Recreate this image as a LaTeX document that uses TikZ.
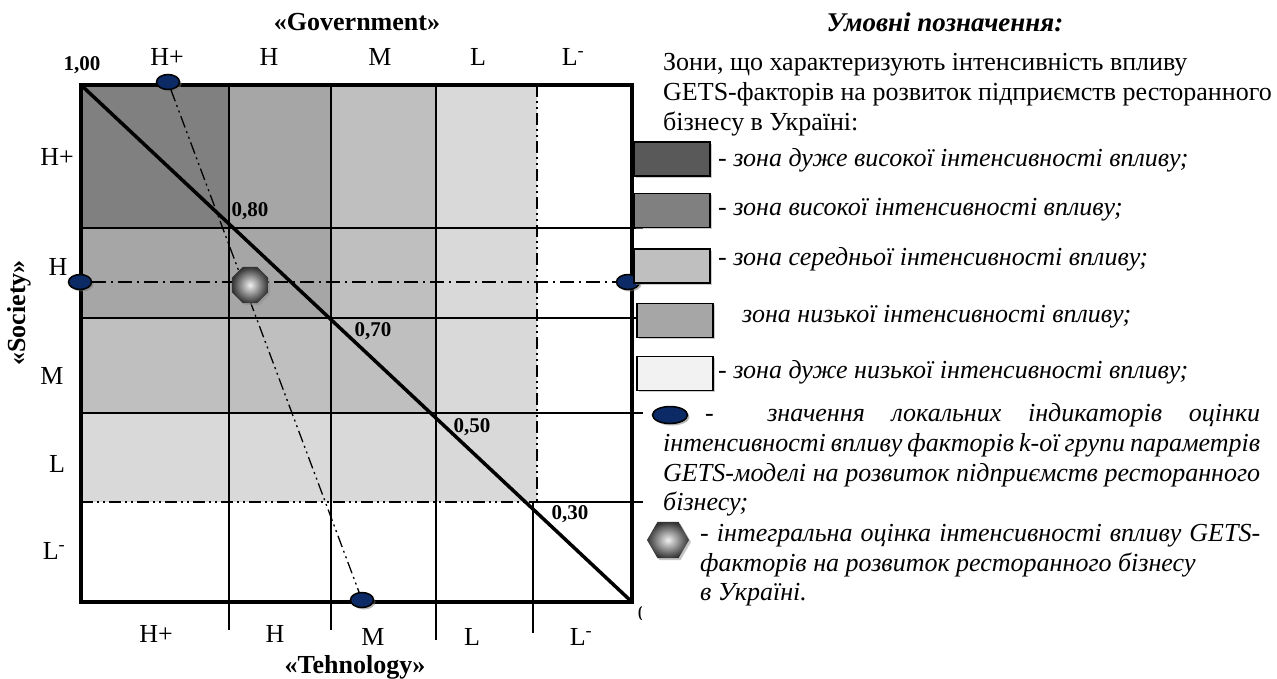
\documentclass[tikz,border=0pt]{standalone}
\usepackage{fontspec}
\setmainfont{Liberation Serif}
\usetikzlibrary{shapes.geometric, shadows}

\definecolor{zoneA}{HTML}{808080}
\definecolor{zoneB}{HTML}{A6A6A6}
\definecolor{zoneC}{HTML}{BFBFBF}
\definecolor{zoneD}{HTML}{D9D9D9}
\definecolor{legA}{HTML}{595959}
\definecolor{legE}{HTML}{F2F2F2}
\definecolor{markblue}{HTML}{0B2A66}

\begin{document}
\begin{tikzpicture}[x=1pt, y=-1pt,
    lbl/.style={font=\fontsize{26}{30}\selectfont, inner sep=0pt},
    num/.style={font=\bfseries\fontsize{21}{25}\selectfont, inner sep=0pt},
    axlbl/.style={font=\bfseries\fontsize{26}{30}\selectfont, inner sep=0pt},
    legtxt/.style={font=\fontsize{26}{30}\selectfont, anchor=west, inner sep=0pt, text height=18pt, text depth=6pt},
    legit/.style={font=\itshape\fontsize{26}{30}\selectfont, anchor=west, inner sep=0pt, text height=18pt, text depth=6pt},
    thinln/.style={line width=1.5pt},
    thickln/.style={line width=3.5pt},
    dotdash/.style={line width=1.3pt, dash pattern=on 14pt off 5pt on 2pt off 5pt},
    dotdotdash/.style={line width=1.3pt, dash pattern=on 12pt off 4pt on 2pt off 4pt on 2pt off 4pt},
    marker/.style={ellipse, draw, line width=1.5pt, fill=markblue, minimum width=23pt, minimum height=15pt, inner sep=0pt,
      drop shadow={shadow xshift=2pt, shadow yshift=-2pt, fill=black!55}},
    integ/.style={regular polygon, regular polygon sides=#1, inner sep=0pt, inner color=black!6, outer color=black!80,
      drop shadow={shadow xshift=2pt, shadow yshift=-2pt, fill=black!45}},
    swatch/.style={draw, line width=1.5pt, minimum width=76pt, minimum height=34pt, inner sep=0pt,
      drop shadow={shadow xshift=1.5pt, shadow yshift=-1.5pt, fill=black!40}}]
  \useasboundingbox (0,0) rectangle (1277,678);
  % Eckpunkte
  \coordinate (tl) at (81,85);
  \coordinate (br) at (632,602);
  % Zonen
  \fill[zoneD] (tl) rectangle (537,502);
  \fill[zoneC] (tl) rectangle (436,413);
  \fill[zoneB] (tl) rectangle (331,318);
  \fill[zoneA] (tl) rectangle (229,228);
  % Raster
  \foreach \y in {228,318,413} \draw[thinln] (81,\y) -- (643,\y);
  \draw[dotdotdash] (81,502) -- (537,502);
  \draw[thinln] (537,502) -- (643,502);
  \foreach \x/\e in {229/630,331/630,436/640} \draw[thinln] (\x,85) -- (\x,\e);
  \draw[dotdotdash] (537,85) -- (537,502);
  \draw[thinln] (533,502) -- (533,633);
  % Rahmen und Diagonale
  \draw[thickln] (tl) rectangle (br);
  \draw[thickln] (tl) -- (br);
  % lokale Indikatoren
  \node[marker] (mTop) at (168,82) {};
  \node[marker] (mLeft) at (80,282) {};
  \node[marker] (mRight) at (628,282) {};
  \node[marker] (mBot) at (362,600) {};
  \draw[dotdash] (mLeft) -- (mRight);
  \draw[dotdotdash] (mTop) -- (mBot);
  % integrale Bewertung
  \node[integ=8, minimum size=39pt] (integral) at (250,285) {};
  % Achsen beschriften
  \node[axlbl] (gov) at (357,22) {«Government»};
  \node[axlbl] (tech) at (355,667) {«Tehnology»};
  \node[axlbl, rotate=90] (soc) at (19,313) {«Society»};
  \foreach \lab/\x [count=\i] in {H+/167,H/269,M/380,L/478,L\textsuperscript{-}/573}
    \node[lbl] (top\i) at (\x,57) {\lab};
  \foreach \lab/\x/\y [count=\i] in {H+/156/634,H/275/634,M/373/637,L/472/637,L\textsuperscript{-}/581/637}
    \node[lbl] (bot\i) at (\x,\y) {\lab};
  \foreach \lab/\x/\y [count=\i] in {H+/57/157,H/58/267,M/52/376,L/57/464,L\textsuperscript{-}/54/551}
    \node[lbl] (left\i) at (\x,\y) {\lab};
  % Werte auf der Diagonale
  \node[num] (v100) at (82,65) {1,00};
  \node[num] (v80) at (250,211) {0,80};
  \node[num] (v70) at (373,331) {0,70};
  \node[num] (v50) at (472,427) {0,50};
  \node[num] (v30) at (570,514) {0,30};
  \begin{scope}
    \clip (620,595) rectangle (641,630);
    \node[font=\fontsize{21}{25}\selectfont, inner sep=0pt] (zero) at (643,614) {0};
  \end{scope}
  % Legende
  \node[font=\bfseries\itshape\fontsize{27}{32}\selectfont, inner sep=0pt] (legTitle) at (945,22) {Умовні позначення:};
  \node[legtxt] (legHead1) at (663,64) {Зони, що характеризують інтенсивність впливу};
  \node[legtxt] (legHead2) at (663,94) {GETS-факторів на розвиток підприємств ресторанного};
  \node[legtxt] (legHead3) at (663,124) {бізнесу в Україні:};
  \node[swatch, fill=legA] (sw1) at (672,159) {};
  \node[swatch, fill=zoneA] (sw2) at (672,210.5) {};
  \node[swatch, fill=zoneC] (sw3) at (672,266) {};
  \node[swatch, fill=zoneB] (sw4) at (675,320.5) {};
  \node[swatch, fill=legE] (sw5) at (675,373.5) {};
  \node[legit] (swt1) at (718,160) {- зона дуже високої інтенсивності впливу;};
  \node[legit] (swt2) at (718,209) {- зона високої інтенсивності впливу;};
  \node[legit] (swt3) at (718,259) {- зона середньої інтенсивності впливу;};
  \node[legit] (swt4) at (742,316) {зона низької інтенсивності впливу;};
  \node[legit] (swt5) at (718,372) {- зона дуже низької інтенсивності впливу;};
  \node[marker, minimum width=35pt, minimum height=17pt] (legMark) at (670,415) {};
  \node[legit] (legJ1) at (705,415) {\makebox[555pt][s]{- \ значення локальних індикаторів оцінки}};
  \node[legit] (legJ2) at (663,445) {\makebox[597pt][s]{інтенсивності впливу факторів k-ої групи параметрів}};
  \node[legit] (legJ3) at (663,475) {\makebox[597pt][s]{GETS-моделі на розвиток підприємств ресторанного}};
  \node[legit] (legJ4) at (663,504) {бізнесу;};
  \node[integ=6, minimum size=42pt] (legInt) at (668,540) {};
  \node[legit] (legI1) at (700,535) {\makebox[560pt][s]{- інтегральна оцінка інтенсивності впливу GETS-}};
  \node[legit] (legI2) at (700,565) {факторів на розвиток ресторанного бізнесу};
  \node[legit] (legI3) at (700,594) {в Україні.};
\end{tikzpicture}
\end{document}
